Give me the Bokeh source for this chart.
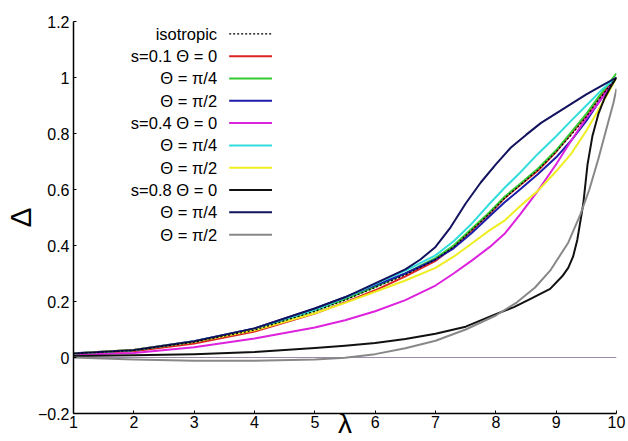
from bokeh.plotting import figure
from bokeh.models import Range1d, FixedTicker
from bokeh.core.properties import value
from bokeh.embed import file_html
from bokeh.resources import INLINE

# ---- data ----
x_iso = [1, 2, 3, 4, 5, 5.5, 6, 6.5, 7, 7.3, 7.6, 7.9, 8.15, 8.4, 8.7, 9.0, 9.25, 9.5, 9.7, 10]
y_iso = [0.014, 0.025, 0.055, 0.098, 0.165, 0.205, 0.25, 0.295, 0.35, 0.395, 0.455, 0.515, 0.57, 0.615, 0.67, 0.735, 0.795, 0.86, 0.92, 1.0]

x_s01 = [1, 2, 3, 4, 5, 5.5, 6, 6.5, 7, 7.3, 7.6, 7.9, 8.15, 8.4, 8.7, 9.0, 9.25, 9.5, 9.7, 10]
y_s01_t0 = [0.013, 0.022, 0.05, 0.093, 0.157, 0.197, 0.24, 0.29, 0.345, 0.395, 0.454, 0.515, 0.57, 0.615, 0.668, 0.735, 0.80, 0.865, 0.925, 1.0]
y_s01_t4 = [0.014, 0.026, 0.056, 0.1, 0.168, 0.208, 0.252, 0.3, 0.355, 0.4, 0.46, 0.52, 0.575, 0.62, 0.675, 0.74, 0.805, 0.87, 0.93, 1.015]
y_s01_t2 = [0.015, 0.027, 0.058, 0.104, 0.175, 0.215, 0.258, 0.3, 0.35, 0.39, 0.445, 0.505, 0.555, 0.6, 0.655, 0.715, 0.775, 0.845, 0.91, 1.0]

x_s04_t0 = [1, 2, 3, 4, 5, 5.5, 6, 6.5, 7, 7.3, 7.6, 7.9, 8.15, 8.4, 8.7, 9.0, 9.25, 9.5, 9.69, 10]
y_s04_t0 = [0.01, 0.016, 0.037, 0.068, 0.107, 0.133, 0.165, 0.205, 0.257, 0.3, 0.346, 0.395, 0.443, 0.51, 0.596, 0.69, 0.775, 0.855, 0.906, 1.0]
x_s04_t4 = [1, 2, 3, 4, 5, 5.5, 6, 6.5, 7, 7.3, 7.6, 7.9, 8.15, 8.4, 8.7, 9.0, 9.25, 9.5, 9.75, 10]
y_s04_t4 = [0.014, 0.027, 0.058, 0.102, 0.17, 0.213, 0.262, 0.31, 0.365, 0.415, 0.478, 0.55, 0.607, 0.66, 0.728, 0.79, 0.846, 0.9, 0.955, 1.0]
x_s04_t2 = [1, 2, 3, 4, 5, 5.5, 6, 6.5, 7, 7.3, 7.6, 7.9, 8.15, 8.4, 8.7, 9.0, 9.25, 9.5, 9.69, 9.9, 10]
y_s04_t2 = [0.014, 0.028, 0.056, 0.097, 0.158, 0.195, 0.235, 0.275, 0.32, 0.36, 0.407, 0.455, 0.49, 0.54, 0.596, 0.665, 0.728, 0.81, 0.88, 0.96, 1.0]

x_s08_t0 = [1, 2, 3, 4, 5, 5.5, 6, 6.5, 7, 7.5, 8, 8.3, 8.6, 8.9, 9.1, 9.2, 9.28, 9.35, 9.45, 9.52, 9.6, 9.7, 9.8, 9.9, 10]
y_s08_t0 = [0.005, 0.008, 0.012, 0.02, 0.034, 0.042, 0.052, 0.066, 0.085, 0.11, 0.155, 0.18, 0.212, 0.245, 0.29, 0.32, 0.36, 0.42, 0.55, 0.69, 0.79, 0.87, 0.925, 0.965, 1.0]

x_s08_t4 = [1, 2, 3, 4, 5, 5.5, 6, 6.5, 6.75, 7, 7.25, 7.5, 7.75, 8, 8.25, 8.5, 8.75, 9, 9.25, 9.5, 9.75, 10]
y_s08_t4 = [0.014, 0.027, 0.058, 0.104, 0.175, 0.215, 0.265, 0.315, 0.35, 0.395, 0.465, 0.55, 0.625, 0.69, 0.75, 0.795, 0.838, 0.872, 0.906, 0.94, 0.97, 1.0]

x_s08_t2 = [1, 2, 3, 4, 5, 5.5, 6, 6.5, 7, 7.5, 8, 8.35, 8.65, 8.9, 9.2, 9.4, 9.55, 9.7, 9.85, 9.95, 10]
y_s08_t2 = [0.0, -0.007, -0.012, -0.012, -0.007, -0.001, 0.012, 0.033, 0.06, 0.1, 0.15, 0.197, 0.25, 0.31, 0.41, 0.51, 0.6, 0.71, 0.83, 0.91, 0.96]

x_zero = [1, 10]
y_zero = [0, 0]

x_ticks = [1, 2, 3, 4, 5, 6, 7, 8, 9, 10]
y_ticks = [-0.2, 0, 0.2, 0.4, 0.6, 0.8, 1, 1.2]
y_tick_labels = ["\u22120.2", "0", "0.2", "0.4", "0.6", "0.8", "1", "1.2"]

legend_labels = ["isotropic", "s=0.1 \u0398 = 0", "\u0398 = \u03c0/4", "\u0398 = \u03c0/2",
                 "s=0.4 \u0398 = 0", "\u0398 = \u03c0/4", "\u0398 = \u03c0/2",
                 "s=0.8 \u0398 = 0", "\u0398 = \u03c0/4", "\u0398 = \u03c0/2"]

FONT = "Liberation Sans"

p = figure(width=628, height=441, output_backend="svg", toolbar_location=None,
           x_range=Range1d(1, 10), y_range=Range1d(-0.2, 1.2),
           min_border_left=68, min_border_right=12, min_border_top=21, min_border_bottom=28)
p.outline_line_color = None
p.grid.visible = False
p.background_fill_color = "white"

for ax in (p.xaxis[0], p.yaxis[0]):
    ax.axis_line_color = "black"
    ax.axis_line_width = 1.5
    ax.major_tick_in = 3
    ax.major_tick_out = 0
    ax.minor_tick_line_color = None
    ax.major_tick_line_color = "black"
    ax.major_label_text_font = FONT
    ax.major_label_text_font_size = "16px"
    ax.major_label_text_color = "black"
    ax.axis_label_text_font = FONT
    ax.axis_label_text_font_style = "normal"
    ax.axis_label_text_color = "black"
    ax.axis_label_text_font_size = "30px"

p.xaxis.ticker = FixedTicker(ticks=x_ticks)
p.yaxis.ticker = FixedTicker(ticks=y_ticks)
p.yaxis.major_label_overrides = {t: l for t, l in zip(y_ticks, y_tick_labels)}
p.xaxis.major_label_standoff = 2
p.yaxis.major_label_standoff = 4
p.yaxis.axis_label = "\u0394"
p.yaxis.axis_label_standoff = -2
p.xaxis.axis_label = "\u03bb"
p.xaxis.axis_label_text_font_size = "28px"
p.xaxis.axis_label_standoff = -23

# zero line
p.line(x_zero, y_zero, line_color="#9a8aa6", line_width=1)

series = [
    (x_s01, y_s01_t0, "#dd2222"),
    (x_s01, y_s01_t4, "#33cc33"),
    (x_s01, y_s01_t2, "#1c1caa"),
    (x_s04_t0, y_s04_t0, "#dd22dd"),
    (x_s04_t4, y_s04_t4, "#33dddd"),
    (x_s04_t2, y_s04_t2, "#eeee22"),
    (x_s08_t0, y_s08_t0, "#111111"),
    (x_s08_t4, y_s08_t4, "#12125e"),
    (x_s08_t2, y_s08_t2, "#888888"),
]
for xs, ys, c in series:
    p.line(xs, ys, line_color=c, line_width=2, line_join="round")
p.line(x_iso, y_iso, line_color="black", line_width=1.2, line_dash="2 2")

# legend (text on the left, sample on the right)
leg_top = 1.156
leg_step = 0.0797
leg_text_x = 3.38
leg_line_x0, leg_line_x1 = 3.58, 4.29
colors = ["black"] + [c for _, _, c in series]
leg_y = [leg_top - i * leg_step for i in range(len(legend_labels))]
p.text(x=[leg_text_x] * len(legend_labels), y=leg_y, text=legend_labels,
       text_align="right", text_baseline="middle", text_font=value(FONT),
       text_font_size="16.5px", text_color="black")
p.segment(x0=[leg_line_x0], y0=[leg_y[0]], x1=[leg_line_x1], y1=[leg_y[0]],
          line_color="black", line_width=1.2, line_dash="2 2")
p.segment(x0=[leg_line_x0] * 9, y0=leg_y[1:], x1=[leg_line_x1] * 9, y1=leg_y[1:],
          line_color=colors[1:], line_width=2)

open("out.html", "w").write(file_html(p, INLINE))
